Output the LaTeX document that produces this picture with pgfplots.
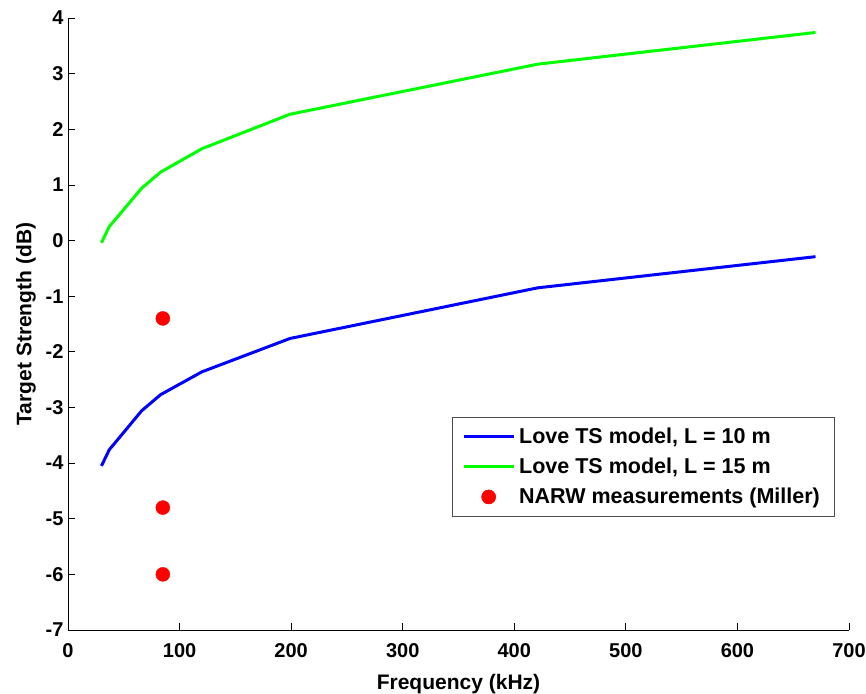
\documentclass[border=0pt]{standalone}
\usepackage{pgfplots}
\pgfplotsset{compat=1.18}
\usepackage{fontspec}
\setmainfont{Liberation Sans}
\definecolor{mblue}{RGB}{0,0,255}
\definecolor{mgreen}{RGB}{0,255,0}
\definecolor{mred}{RGB}{255,0,0}
\begin{document}
\begin{tikzpicture}
\begin{axis}[
  scale only axis,
  width=781pt, height=612pt,
  xmin=0, xmax=700, ymin=-7, ymax=4,
  axis lines*=left,
  axis line style={black, line width=0.8pt},
  xtick={0,100,...,700},
  ytick={-7,-6,...,4},
  tick align=inside,
  major tick length=7pt,
  tick style={black, line width=0.8pt},
  /pgf/number format/assume math mode=true,
  tick label style={font=\fontsize{20}{22}\selectfont\bfseries},
  yticklabel style={xshift=-1pt},
  xticklabel style={yshift=-10pt},
  label style={font=\fontsize{21}{23}\selectfont\bfseries},
  xlabel={Frequency (kHz)},
  ylabel={Target Strength (dB)},
  xlabel style={yshift=-10pt},
  ylabel style={yshift=3pt},
  legend style={at={(0.981,0.185)}, anchor=south east, draw=black!70, line width=0.6pt,
    font=\fontsize{21.5}{23}\selectfont\bfseries, row sep=9pt, inner xsep=10pt, inner ysep=9pt,
    nodes={inner xsep=4pt}},
  legend cell align=left,
  legend image code/.code={\draw[mark repeat=2,mark phase=2,#1] plot coordinates {(0pt,0pt) (25pt,0pt) (50pt,0pt)};},
]
\addplot[mblue, line width=3pt] coordinates {
 (30,-4.05) (37,-3.76) (66,-3.06) (83,-2.77) (120,-2.36) (199,-1.76) (421,-0.85) (670,-0.29)};
\addlegendentry{Love TS model, L = 10 m}
\addplot[mgreen, line width=3pt] coordinates {
 (30,-0.04) (37,0.25) (66,0.94) (83,1.23) (120,1.65) (199,2.27) (421,3.17) (670,3.74)};
\addlegendentry{Love TS model, L = 15 m}
\addplot[only marks, mark=*, mark size=7pt, mred, mark options={draw=mred, fill=mred}] coordinates {
 (85,-1.4) (85,-4.8) (85,-6.0)};
\addlegendentry{NARW measurements (Miller)}
\path (rel axis cs:0,0) coordinate (O);
\end{axis}
\pgfresetboundingbox
\path (O) ++(-68pt,-63pt) rectangle ++(866pt,693pt);
\end{tikzpicture}
\end{document}
